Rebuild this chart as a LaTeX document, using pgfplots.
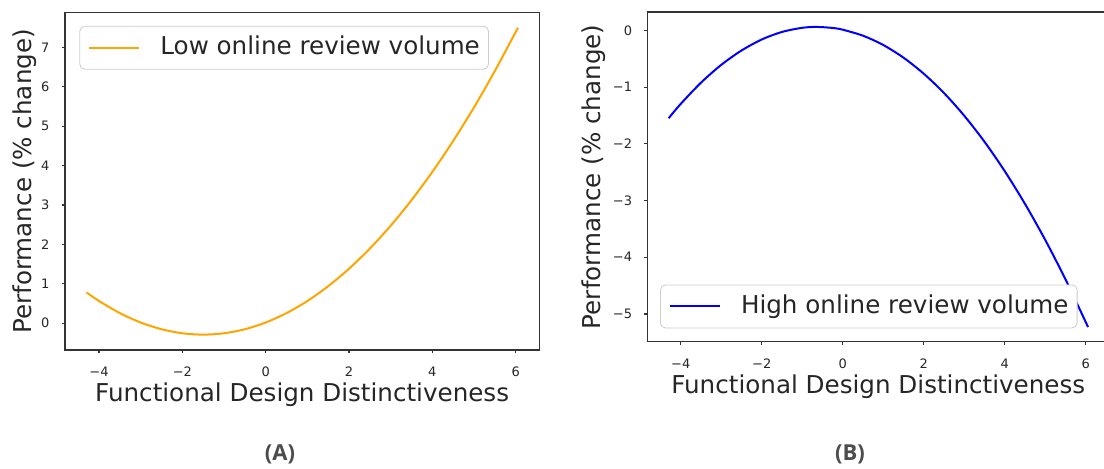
\documentclass[border=0pt]{standalone}
\usepackage{fontspec}
\setmainfont{DejaVu Sans}
\newfontfamily\abfont{Open Sans}
\usepackage{pgfplots}
\pgfplotsset{compat=1.18}
\definecolor{mplorange}{RGB}{255,165,0}
\definecolor{mplblue}{RGB}{0,0,255}
\begin{document}
\begin{tikzpicture}
\pgfplotsset{
  myaxis/.style={
    scale only axis, anchor=south west,
    xmin=-4.8175, xmax=6.5675,
    axis line style={black!80, line width=0.6pt},
    every tick/.style={black!80, line width=0.6pt},
    tick align=outside, major tick length=1.75pt,
    xtick pos=left, ytick pos=left,
    xtick={-4,-2,0,2,4,6},
    xticklabels={−4,−2,0,2,4,6},
    /pgf/number format/assume math mode=true,
    ticklabel style={font=\fontsize{6.5}{7}\selectfont, text=black!85},
    xticklabel style={anchor=base, inner sep=0pt, yshift=-11.7pt},
    yticklabel style={anchor=east, inner sep=0pt, xshift=-5.85pt},
    every axis x label/.style={at={(axis description cs:0.5,0)}, anchor=base, yshift=-25.85pt, font=\fontsize{12.3}{14}\selectfont, text=black!85},
    legend cell align=left,
    legend image code/.code={\draw[#1] (0pt,0pt) -- (25pt,0pt);},
    xlabel={Functional Design Distinctiveness},
    ylabel={Performance (\% change)},
  }
}
% Panel A
\begin{axis}[myaxis,
  at={(32.5pt,59.5pt)}, width=237.15pt, height=168.65pt,
  ymin=-0.68, ymax=7.88, ytick={0,1,2,3,4,5,6,7},
  every axis y label/.style={at={(axis description cs:-0.0843,0.5)}, rotate=90, anchor=center, font=\fontsize{12.3}{14}\selectfont, text=black!85},
  legend style={at={(0.0304,0.961)}, anchor=north west, draw=black!20, rounded corners=2.5pt,
    inner xsep=4.3pt, inner ysep=4.85pt, font=\fontsize{12.3}{14}\selectfont, text=black!85,
    nodes={inner sep=0pt, text height=9.2pt, text depth=2.6pt}, column sep=10pt},
]
\addplot[color=mplorange, line width=1pt, smooth] coordinates {
(-4.3,0.780) (-4.0,0.563) (-3.5,0.256) (-3.0,0.017) (-2.5,-0.153) (-2.0,-0.256)
(-1.5,-0.290) (-1.0,-0.256) (-0.5,-0.153) (0.0,0.017) (0.5,0.256) (1.0,0.563)
(1.5,0.939) (2.0,1.382) (2.5,1.894) (3.0,2.474) (3.5,3.123) (4.0,3.839)
(4.5,4.624) (5.0,5.477) (5.5,6.399) (6.0,7.388) (6.05,7.491)
};
\addlegendentry{Low online review volume\hspace{6.6pt}}
\end{axis}
% Panel B
\begin{axis}[myaxis,
  at={(323.85pt,63.65pt)}, width=230.55pt, height=164.85pt,
  ymin=-5.49, ymax=0.327, ytick={-5,-4,-3,-2,-1,0},
  yticklabels={−5,−4,−3,−2,−1,0},
  every axis y label/.style={at={(axis description cs:-0.1165,0.5)}, rotate=90, anchor=center, font=\fontsize{12.3}{14}\selectfont, text=black!85},
  legend style={at={(0.0267,0.0406)}, anchor=south west, draw=black!20, rounded corners=2.5pt,
    inner xsep=4.3pt, inner ysep=4.85pt, font=\fontsize{12.3}{14}\selectfont, text=black!85,
    nodes={inner sep=0pt, text height=9.2pt, text depth=2.6pt}, column sep=10pt},
]
\addplot[color=mplblue, line width=1pt, smooth] coordinates {
(-4.3,-1.547) (-4.0,-1.293) (-3.5,-0.919) (-3.0,-0.605) (-2.5,-0.352) (-2.0,-0.158)
(-1.5,-0.025) (-1.0,0.048) (-0.645,0.063) (-0.25,0.045) (0.0,0.014) (0.5,-0.092)
(1.0,-0.256) (1.5,-0.480) (2.0,-0.763) (2.5,-1.104) (3.0,-1.505) (3.5,-1.964)
(4.0,-2.483) (4.5,-3.061) (5.0,-3.697) (5.5,-4.393) (6.0,-5.147) (6.05,-5.226)
};
\addlegendentry{High online review volume\hspace{1.6pt}}
\end{axis}
\node[font=\abfont\bfseries\fontsize{11}{13}\selectfont, text=black!70] at (140pt,7.5pt) {(A)};
\node[font=\abfont\bfseries\fontsize{11}{13}\selectfont, text=black!70] at (425pt,7.5pt) {(B)};
\pgfresetboundingbox
\path[use as bounding box] (0pt,0pt) rectangle (552pt,234.5pt);
\end{tikzpicture}
\end{document}
